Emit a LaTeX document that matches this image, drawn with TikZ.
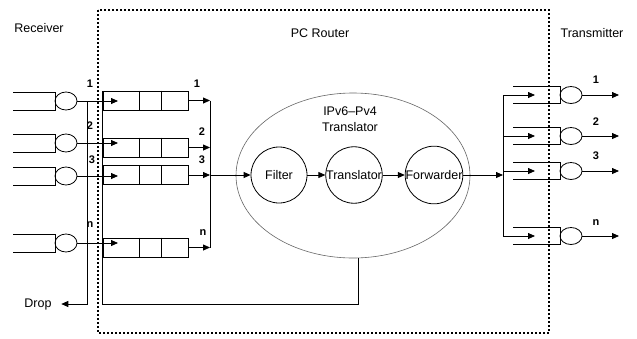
\documentclass[tikz,border=0pt]{standalone}
\usepackage{fontspec}
\setmainfont{Liberation Sans}
\usetikzlibrary{arrows.meta,shapes.geometric}
\tikzset{
  que/.style={draw, minimum width=85pt, minimum height=19pt, inner sep=0pt},
  srv/.style={draw, ellipse, minimum width=22pt, minimum height=18pt, inner sep=0pt},
  proc/.style={draw, circle, minimum size=56pt, inner sep=0pt, font=\fontsize{12.5}{14}\selectfont},
  arr/.style={-{Triangle[length=7pt,width=6pt]}},
  dotbox/.style={line width=2pt, dash pattern=on 2pt off 2pt},
  lbl/.style={font=\fontsize{12.5}{16}\selectfont},
  num/.style={font=\bfseries\fontsize{11}{12}\selectfont, inner sep=0pt},
}
\begin{document}
\begin{tikzpicture}[x=1pt, y=-1pt, line width=0.8pt]
  \useasboundingbox (0,0) rectangle (637,338);
  \draw[dotbox] (98,10) rectangle (549,333);
  \node[lbl] (rcv) at (39,28) {Receiver};
  \node[lbl] (pcr) at (320,33) {PC Router};
  \node[lbl] (tmt) at (592,33) {Transmitter};

  % receiver side
  \coordinate (tipx) at (118,0);
  \coordinate (dx) at (87,0);
  \foreach \n/\y in {1/101,2/143,3/176,n/243}{
    \draw (13,\y-9) -- (55,\y-9) -- (55,\y+9) -- (13,\y+9);
    \node[srv] (rc\n) at (66,\y) {};
  }
  \foreach \n in {1,2,3,n}
    \draw[arr] (rc\n.east) -- (rc\n.east -| tipx);
  \node[lbl] (drop) at (38,304) {Drop};
  \draw[arr, shorten >=6pt] (rc1.east -| dx) |- (drop.east);

  % input queues in the router
  \foreach \n/\y in {1/100.5,2/147.5,3/175,n/247.5}{
    \node[que] (q\n) at (145.5,\y) {};
    \draw ([xshift=37pt]q\n.north west) -- ([xshift=37pt]q\n.south west)
          ([xshift=59pt]q\n.north west) -- ([xshift=59pt]q\n.south west);
  }
  \coordinate (ibus) at (210,0);
  \foreach \n in {1,2,3,n}
    \draw[arr] (q\n.east) -- (q\n.east -| ibus);
  \draw (q1.east -| ibus) -- (qn.east -| ibus);

  \node[num] (l1) at (90,84) {1};
  \node[num] (l2) at (90,126) {2};
  \node[num] (l3) at (92,160) {3};
  \node[num] (ln) at (90,225) {n};
  \node[num] (m1) at (197,84) {1};
  \node[num] (m2) at (202,132) {2};
  \node[num] (m3) at (202,160) {3};
  \node[num] (mn) at (203,233) {n};

  % translator
  \node[draw=gray!80!black, line width=0.6pt, ellipse, minimum width=234pt, minimum height=165pt] (tr) at (353,175.5) {};
  \node[lbl, align=center] (trl) at (350,119) {IPv6--Pv4\\Translator};
  \node[proc] (flt) at (279,175) {Filter};
  \node[proc] (xlt) at (354,175) {Translator};
  \node[proc] (fwd) at (434,175) {Forwarder};
  \draw[arr] (q3.east -| ibus) -- (flt);
  \draw[arr] (flt) -- (xlt);
  \draw[arr] (xlt) -- (fwd);
  \draw ([xshift=5pt]tr.south) -- ++(0,46) -| (q1.north west);

  % transmitter side
  \coordinate (obus) at (503,0);
  \draw[arr] (fwd) -- (fwd -| obus);
  \foreach \n/\y in {1/95,2/136,3/171,n/236}{
    \draw (513,\y-8.5) -- (560,\y-8.5) -- (560,\y+8.5) -- (513,\y+8.5);
    \node[srv, minimum height=17pt] (tx\n) at (571,\y) {};
    \coordinate (ti\n) at (535,\y);
    \coordinate (to\n) at (619,\y);
    \draw[arr] (obus |- tx\n) -- (ti\n);
    \draw[arr] (tx\n) -- (to\n);
  }
  \draw (obus |- tx1) -- (obus |- txn);

  \node[num] (o1) at (596,80) {1};
  \node[num] (o2) at (596,122) {2};
  \node[num] (o3) at (596,156) {3};
  \node[num] (on) at (596,223) {n};
\end{tikzpicture}
\end{document}
